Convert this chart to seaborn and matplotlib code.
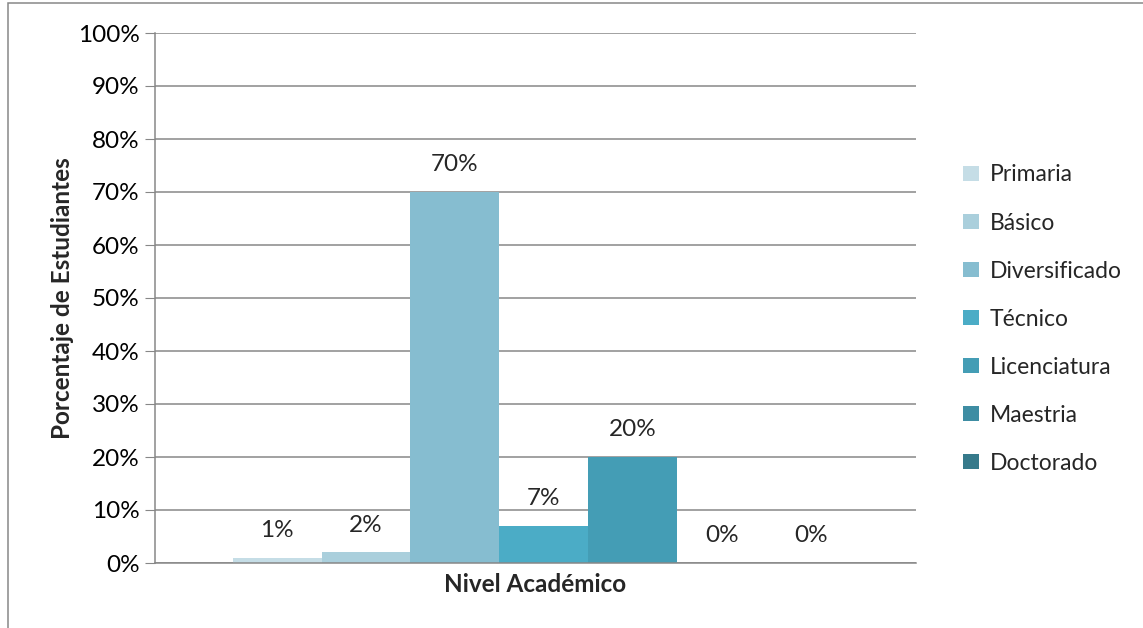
import matplotlib
matplotlib.use("Agg")
import matplotlib.pyplot as plt
import seaborn as sns
import pandas as pd
from matplotlib.ticker import PercentFormatter, MultipleLocator
from matplotlib.patches import Patch

niveles = ["Primaria", "Básico", "Diversificado", "Técnico", "Licenciatura", "Maestria", "Doctorado"]
porcentajes = [1, 2, 70, 7, 20, 0, 0]
colores = ["#C5DDE6", "#AACFDC", "#86BDD0", "#4BACC6", "#449DB5", "#3E8DA3", "#367A8B"]
categoria = "Nivel Académico"

sns.set_style("white")
plt.rcParams["font.family"] = ["Lato", "DejaVu Sans"]
FS = 17.5

df = pd.DataFrame({"cat": [categoria] * len(niveles), "nivel": niveles, "pct": porcentajes})

fig = plt.figure(figsize=(11.43, 6.28), dpi=100)
ax = fig.add_axes([155 / 1143, 1 - 563 / 628, (916 - 155) / 1143, (563 - 33) / 628])

sns.barplot(data=df, x="cat", y="pct", hue="nivel", hue_order=niveles,
            palette=colores, width=0.818, gap=0, ax=ax, legend=False,
            saturation=1, errorbar=None, linewidth=0)
ax.set_xlim(-0.511, 0.489)
ax.set_ylim(0, 100)
ax.yaxis.set_major_locator(MultipleLocator(10))
ax.yaxis.set_major_formatter(PercentFormatter(decimals=0))
ax.grid(axis="y", color="#878787", linewidth=1.1)
ax.set_axisbelow(True)
for s in ["top", "right"]:
    ax.spines[s].set_visible(False)
for s in ["left", "bottom"]:
    ax.spines[s].set_color("#878787")
    ax.spines[s].set_linewidth(1.1)
ax.tick_params(axis="y", which="major", left=True, length=7, color="#878787",
               labelsize=FS, pad=4, labelcolor="black")
ax.set_xticks([])
ax.set_xlabel(categoria, fontsize=FS, fontweight="bold", labelpad=7)
ax.set_ylabel("Porcentaje de Estudiantes", fontsize=FS, fontweight="bold", labelpad=3)

for cont in ax.containers:
    ax.bar_label(cont, labels=[f"{v:.0f}%" for v in cont.datavalues],
                 padding=12, fontsize=FS)

handles = [Patch(facecolor=c, edgecolor="none") for c in colores]
fig.legend(handles, niveles, loc="upper left", bbox_to_anchor=(952 / 1143, 1 - 153 / 628),
           frameon=False, fontsize=16.5, handlelength=0.66, handleheight=0.66,
           labelspacing=1.18, handletextpad=0.5, borderpad=0)

border = plt.Rectangle((8 / 1143, -0.01), 1.1, 1 - 3 / 628 + 0.01, transform=fig.transFigure,
                       fill=False, edgecolor="#878787", linewidth=1.1)
fig.patches.append(border)

fig.savefig("out.png", dpi=100)
